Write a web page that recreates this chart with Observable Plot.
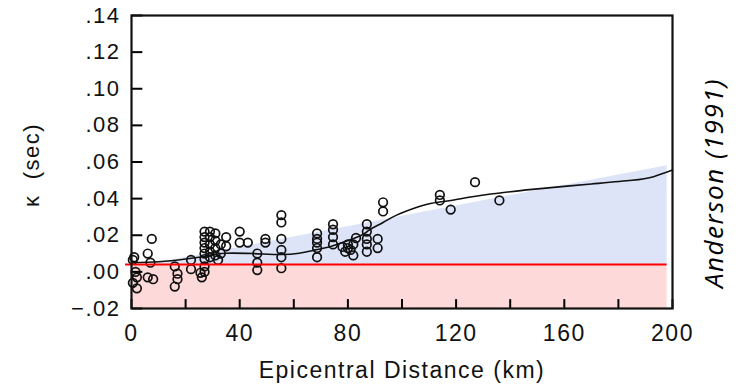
<!DOCTYPE html>
<html>
<head>
<meta charset="utf-8">
<script src="https://cdn.jsdelivr.net/npm/d3@7"></script>
<script src="https://cdn.jsdelivr.net/npm/@observablehq/plot@0.6"></script>
<style>
  html, body { margin: 0; padding: 0; background: #fff; }
  #chart svg text { letter-spacing: 1.5px; }
</style>
</head>
<body>
<div id="chart"></div>
<script>
// ---- tick values and labels ----
const xTicks = [0, 20, 40, 60, 80, 100, 120, 140, 160, 180, 200];
const xLabelTicks = [0, 40, 80, 120, 160, 200];
const yTicks = [-0.02, 0, 0.02, 0.04, 0.06, 0.08, 0.10, 0.12, 0.14];
const yTickLabels = ["\u2212.02", ".00", ".02", ".04", ".06", ".08", ".10", ".12", ".14"];
const xTitle = "Epicentral Distance (km)";
const yTitle = "\u03ba  (sec)";
const sideNote = "Anderson (1991)";

// ---- reference level (red line) and shaded zones ----
const redLevel = 0.004;
const zoneEndX = 198;
const redStartX = -2.2;
const blueWedgeX = [6.5, 198];
const blueWedgeTop = [0.004, 0.058];

// ---- smoothed trend curve ----
const curveX = [0, 10, 20, 30, 35, 45, 55, 62, 68, 73, 78, 85, 88, 93, 98, 105, 111, 118, 126, 139, 155, 170, 185, 193, 200];
const curveY = [0.005, 0.0055, 0.007, 0.0092, 0.0102, 0.0100, 0.0095, 0.0102, 0.0120, 0.0136, 0.0160, 0.0200, 0.0230, 0.0270, 0.0310, 0.0350, 0.0375, 0.0390, 0.0410, 0.0436, 0.0460, 0.0480, 0.0500, 0.0520, 0.0556];

// ---- observed kappa values (distance km, kappa sec) ----
const obsX = [
  1, 0.5, 1.5, 2, 0.5, 2,
  7.5, 6, 7, 6, 8,
  16, 17, 17, 16,
  22, 22, 25.5, 26,
  27, 27, 27, 27, 27, 27, 27, 27,
  29, 29, 29, 29, 29,
  31, 31, 31, 31,
  33, 33, 32, 35, 35,
  40, 40, 43,
  46.5, 46.5, 46.5,
  49.5, 49.5,
  55.4, 55.4, 55.4, 55.4, 55.4, 55.4,
  68.6, 68.6, 68.6, 68.6, 68.6,
  74.5, 74.5, 74.5, 74.5,
  78, 79, 80, 81, 82, 82, 83, 80,
  87, 87, 87, 87, 87,
  91, 91,
  93, 93,
  114, 114, 118, 127, 136
];
const obsY = [
  0.008, 0.0065, 0.000, -0.003, -0.006, -0.009,
  0.018, 0.010, 0.005, -0.003, -0.004,
  0.003, -0.001, -0.004, -0.008,
  0.0065, 0.0015, -0.0005, -0.003,
  0.022, 0.019, 0.016, 0.013, 0.010, 0.007, 0.003, 0.000,
  0.022, 0.019, 0.015, 0.011, 0.008,
  0.021, 0.017, 0.013, 0.009,
  0.015, 0.010, 0.0065, 0.019, 0.014,
  0.022, 0.016, 0.016,
  0.010, 0.005, 0.001,
  0.018, 0.016,
  0.031, 0.027, 0.018, 0.012, 0.008, 0.002,
  0.021, 0.018, 0.016, 0.013, 0.008,
  0.026, 0.023, 0.019, 0.015,
  0.0136, 0.011, 0.015, 0.012, 0.015, 0.009, 0.0185, 0.013,
  0.026, 0.022, 0.018, 0.015, 0.011,
  0.018, 0.013,
  0.038, 0.033,
  0.042, 0.039, 0.034, 0.049, 0.039
];

// ---- tables built from the arrays ----
const points = obsX.map((x, i) => ({x, y: obsY[i]}));
const curve = curveX.map((x, i) => ({x, y: curveY[i]}));
const wedge = blueWedgeX.map((x, i) => ({x, y1: redLevel, y2: blueWedgeTop[i]}));
const pinkZone = [{x1: xTicks[0], x2: zoneEndX, y1: yTicks[0], y2: redLevel}];
const yLabelMap = new Map(yTicks.map((t, i) => [t, yTickLabels[i]]));
const xDomain = [0, 200], yDomain = [-0.02, 0.14];
// inward tick lengths, as fractions of the axis spans
const xTickLen = (yDomain[1] - yDomain[0]) * 0.032;
const yTickLen = (xDomain[1] - xDomain[0]) * 0.02;
const xTickRows = xTicks.map(x => ({x, y1: yDomain[0], y2: yDomain[0] + xTickLen}));
const yTickRows = yTicks.map(y => ({y, x1: xDomain[0], x2: xDomain[0] + yTickLen}));

const FONT = "'Liberation Sans', 'DejaVu Sans', sans-serif";

const chart = Plot.plot({
  width: 745,
  height: 387,
  marginLeft: 131,
  marginRight: 73,
  marginTop: 15,
  marginBottom: 79,
  style: {fontFamily: FONT, fontSize: "22px", color: "#111", background: "#fff"},
  x: {domain: xDomain},
  y: {domain: yDomain},
  marks: [
    Plot.rect(pinkZone, {x1: "x1", x2: "x2", y1: "y1", y2: "y2", fill: "#fdd9d9"}),
    Plot.areaY(wedge, {x: "x", y1: "y1", y2: "y2", fill: "#dde4f8"}),
    Plot.line(curve, {x: "x", y: "y", curve: "natural", stroke: "#111", strokeWidth: 1.6}),
    Plot.dot(points, {x: "x", y: "y", r: 4.3, stroke: "#111", strokeWidth: 1.7, fill: "none"}),
    Plot.ruleY([redLevel], {x1: redStartX, x2: zoneEndX, stroke: "#ff0000", strokeWidth: 2, clip: false}),
    // inward tick marks
    Plot.link(xTickRows, {x1: "x", x2: "x", y1: "y1", y2: "y2", stroke: "#000", strokeWidth: 2}),
    Plot.link(yTickRows, {x1: "x1", x2: "x2", y1: "y", y2: "y", stroke: "#000", strokeWidth: 2}),
    Plot.frame({stroke: "#111", strokeWidth: 2.2}),
    // tick labels
    Plot.axisX({ticks: xLabelTicks, tickSize: 0, tickPadding: 16, fontSize: 23, label: null, tickFormat: d => String(d)}),
    Plot.axisY({ticks: yTicks, tickSize: 0, tickPadding: 11, fontSize: 22, label: null, tickFormat: d => yLabelMap.get(d)}),
    // titles
    Plot.text([xTitle], {frameAnchor: "bottom", dy: 62, fontSize: 23, textAnchor: "middle", lineAnchor: "middle"}),
    Plot.text([yTitle], {frameAnchor: "left", dx: -100, dy: 3, rotate: -90, fontSize: 22, textAnchor: "middle", lineAnchor: "middle"}),
    Plot.text([sideNote], {frameAnchor: "right", dx: 42, dy: 21, rotate: -90, fontSize: 26, fontStyle: "italic", fontFamily: "'Open Sans', sans-serif", textAnchor: "middle", lineAnchor: "middle", fill: "#000"})
  ]
});
document.getElementById("chart").appendChild(chart);
</script>
</body>
</html>
